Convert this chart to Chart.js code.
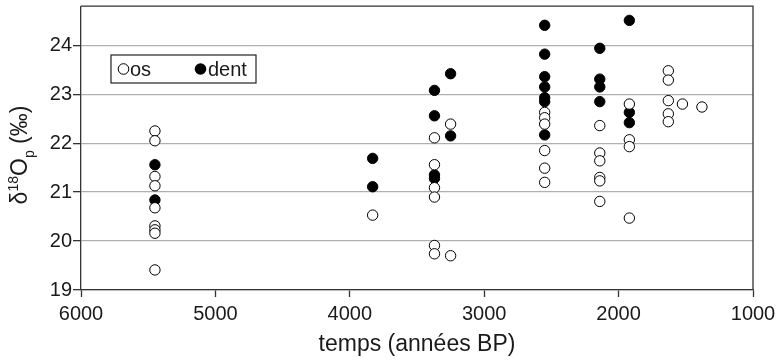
<!DOCTYPE html>
<html>
<head>
<meta charset="utf-8">
<script src="https://cdn.jsdelivr.net/npm/chart.js@4.4.1/dist/chart.umd.min.js"></script>
<style>
  html, body { margin: 0; padding: 0; background: #fff; }
  #wrap { width: 780px; height: 360px; position: relative; }
</style>
</head>
<body>
<div id="wrap"><canvas id="chart" width="780" height="360"></canvas></div>
<script>
// os (open circles)
const osTemps = [5450, 5450, 5450, 5450, 5450, 5450, 5450, 5450, 5450,
  3830,
  3370, 3370, 3370, 3370, 3370, 3370,
  3250, 3250,
  2550, 2550, 2550, 2550, 2550, 2550,
  2140, 2140, 2140, 2140, 2140, 2140,
  1920, 1920, 1920, 1920,
  1630, 1630, 1630, 1630, 1630,
  1525, 1380];
const osValeurs = [22.25, 22.05, 21.32, 21.13, 20.68, 20.31, 20.23, 20.16, 19.41,
  20.53,
  22.11, 21.56, 21.09, 20.90, 19.91, 19.74,
  22.39, 19.70,
  22.63, 22.52, 22.39, 21.85, 21.49, 21.20,
  22.36, 21.80, 21.64, 21.30, 21.23, 20.81,
  22.80, 22.07, 21.93, 20.47,
  23.48, 23.29, 22.87, 22.60, 22.44,
  22.80, 22.74];

// dent (filled circles)
const dentTemps = [5450, 5450,
  3830, 3830,
  3370, 3370, 3370, 3370,
  3250, 3250,
  2550, 2550, 2550, 2550, 2550, 2550, 2550,
  2140, 2140, 2140, 2140,
  1920, 1920, 1920];
const dentValeurs = [21.56, 20.84,
  21.69, 21.11,
  23.08, 22.56, 21.35, 21.28,
  23.42, 22.15,
  24.41, 23.82, 23.36, 23.15, 22.93, 22.85, 22.17,
  23.94, 23.31, 23.15, 22.85,
  24.51, 22.63, 22.42];

const xTicks = [6000, 5000, 4000, 3000, 2000, 1000];
const yTicks = [19, 20, 21, 22, 23, 24];

const FONT = '"Liberation Sans", Arial, sans-serif';
const INK = '#1a1a1a';

function toPoints(xs, ys) {
  return xs.map((x, i) => ({ x: x, y: ys[i] }));
}

// frame on top/right, legend box and y title with super/subscripts
const decor = {
  id: 'decor',
  afterDraw(chart) {
    const ctx = chart.ctx;
    const a = chart.chartArea;
    ctx.save();
    ctx.strokeStyle = '#333';
    ctx.lineWidth = 1.3;
    ctx.beginPath();
    ctx.moveTo(a.left, a.top);
    ctx.lineTo(a.right, a.top);
    ctx.lineTo(a.right, a.bottom);
    ctx.stroke();

    // legend
    const lx = 111, ly = 55, lw = 145, lh = 28;
    ctx.fillStyle = '#fff';
    ctx.fillRect(lx, ly, lw, lh);
    ctx.strokeStyle = '#222';
    ctx.lineWidth = 1.2;
    ctx.strokeRect(lx, ly, lw, lh);
    const cy = ly + lh / 2;
    ctx.beginPath();
    ctx.arc(123.5, cy, 5.3, 0, Math.PI * 2);
    ctx.fillStyle = '#fff';
    ctx.fill();
    ctx.strokeStyle = '#000';
    ctx.lineWidth = 1;
    ctx.stroke();
    ctx.beginPath();
    ctx.arc(200.5, cy, 5.8, 0, Math.PI * 2);
    ctx.fillStyle = '#000';
    ctx.fill();
    ctx.font = '20px ' + FONT;
    ctx.fillStyle = INK;
    ctx.textBaseline = 'middle';
    ctx.textAlign = 'left';
    ctx.fillText('os', 130, cy + 1);
    ctx.fillText('dent', 208, cy + 1);

    // y title: δ18Op (‰)
    ctx.translate(27, 155);
    ctx.rotate(-Math.PI / 2);
    const big = '23px ' + FONT, small = '14px ' + FONT;
    const parts = [
      { t: '\u03B4', f: big, dy: 0 },
      { t: '18', f: small, dy: -9 },
      { t: 'O', f: big, dy: 0 },
      { t: 'p', f: small, dy: 7 },
      { t: ' (\u2030)', f: big, dy: 0 }
    ];
    let total = 0;
    parts.forEach(p => { ctx.font = p.f; p.w = ctx.measureText(p.t).width; total += p.w; });
    let x = -total / 2;
    ctx.textBaseline = 'alphabetic';
    parts.forEach(p => {
      ctx.font = p.f;
      ctx.fillText(p.t, x, p.dy);
      x += p.w;
    });
    ctx.restore();
  }
};

new Chart(document.getElementById('chart'), {
  type: 'scatter',
  data: {
    datasets: [
      {
        label: 'os',
        data: toPoints(osTemps, osValeurs),
        backgroundColor: '#fff',
        borderColor: '#000',
        borderWidth: 1,
        pointRadius: 5.2,
        order: 0
      },
      {
        label: 'dent',
        data: toPoints(dentTemps, dentValeurs),
        backgroundColor: '#000',
        borderColor: '#000',
        borderWidth: 1,
        pointRadius: 5.2,
        order: 1
      }
    ]
  },
  options: {
    responsive: false,
    animation: false,
    devicePixelRatio: 1,
    layout: { padding: { top: 6, right: 27, left: 0, bottom: 0 } },
    plugins: {
      legend: { display: false },
      tooltip: { enabled: false }
    },
    scales: {
      x: {
        type: 'linear',
        reverse: true,
        min: 1000,
        max: 6000,
        afterBuildTicks: s => { s.ticks = xTicks.map(v => ({ value: v })); },
        afterFit: s => { s.height = 70; s.paddingLeft = 0; s.paddingRight = 0; },
        border: { color: '#333', width: 1.3 },
        grid: { drawOnChartArea: false, tickLength: 7, tickColor: '#333', tickWidth: 1.3 },
        ticks: {
          color: INK, font: { family: FONT, size: 20 }, padding: 5, maxRotation: 0,
          callback: v => String(v)
        },
        title: {
          display: true,
          text: 'temps (années BP)',
          color: INK,
          font: { family: FONT, size: 23 },
          padding: { top: 0, bottom: 2 }
        }
      },
      y: {
        type: 'linear',
        min: 19,
        max: 24.8,
        afterBuildTicks: s => { s.ticks = yTicks.map(v => ({ value: v })); },
        afterFit: s => { s.width = 81; s.paddingTop = 0; s.paddingBottom = 0; },
        border: { color: '#333', width: 1.3 },
        grid: { color: '#b0b0b0', lineWidth: 1.3, tickLength: 8, tickColor: '#333', tickWidth: 1.3 },
        ticks: { color: INK, font: { family: FONT, size: 20 }, padding: 1, callback: v => String(v) }
      }
    }
  },
  plugins: [decor]
});
</script>
</body>
</html>
